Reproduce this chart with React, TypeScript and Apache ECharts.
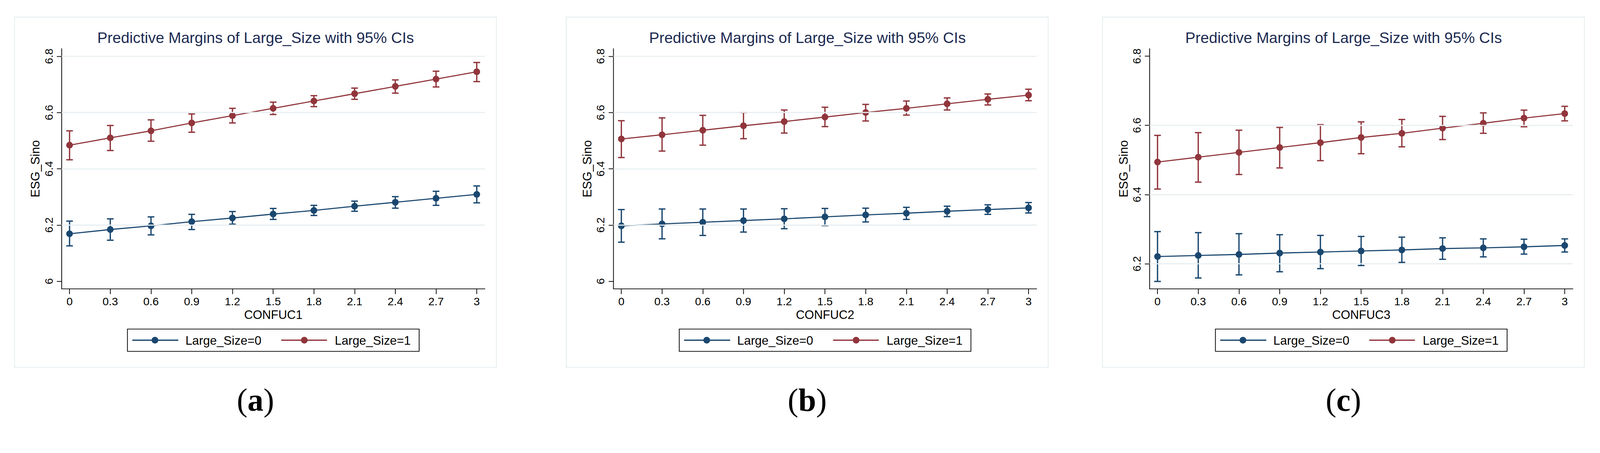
import React, { useEffect, useRef } from "react";
import * as echarts from "echarts";

// ---------- data ----------
const xValues = [0, 0.3, 0.6, 0.9, 1.2, 1.5, 1.8, 2.1, 2.4, 2.7, 3];
const xTickLabels = ["0", "0.3", "0.6", "0.9", "1.2", "1.5", "1.8", "2.1", "2.4", "2.7", "3"];
const xNames = ["CONFUC1", "CONFUC2", "CONFUC3"];
const captions = ["a", "b", "c"];
const seriesNames = ["Large_Size=0", "Large_Size=1"];
const chartTitle = "Predictive Margins of Large_Size with 95% CIs";
const yAxisName = "ESG_Sino";

const yTicksAB = [6, 6.2, 6.4, 6.6, 6.8];
const yTickLabelsAB = ["6", "6.2", "6.4", "6.6", "6.8"];
const yGridAB = [6.2, 6.4, 6.6, 6.8];
const yTicksC = [6.2, 6.4, 6.6, 6.8];
const yTickLabelsC = ["6.2", "6.4", "6.6", "6.8"];
const yGridC = [6.2, 6.4, 6.6];

// panel (a)
const a0Mean = [6.169, 6.184, 6.197, 6.212, 6.225, 6.239, 6.252, 6.267, 6.281, 6.295, 6.309];
const a0Lo = [6.126, 6.146, 6.165, 6.184, 6.203, 6.220, 6.234, 6.249, 6.260, 6.270, 6.279];
const a0Hi = [6.214, 6.222, 6.229, 6.238, 6.248, 6.259, 6.270, 6.285, 6.301, 6.320, 6.339];
const a1Mean = [6.484, 6.510, 6.535, 6.563, 6.589, 6.615, 6.641, 6.667, 6.693, 6.719, 6.745];
const a1Lo = [6.432, 6.465, 6.498, 6.530, 6.563, 6.593, 6.621, 6.647, 6.669, 6.691, 6.710];
const a1Hi = [6.535, 6.554, 6.574, 6.595, 6.615, 6.637, 6.660, 6.687, 6.716, 6.747, 6.778];

// panel (b)
const b0Mean = [6.197, 6.204, 6.210, 6.216, 6.222, 6.229, 6.236, 6.242, 6.249, 6.255, 6.261];
const b0Lo = [6.139, 6.151, 6.163, 6.175, 6.187, 6.198, 6.211, 6.220, 6.230, 6.238, 6.243];
const b0Hi = [6.255, 6.257, 6.257, 6.257, 6.258, 6.259, 6.260, 6.263, 6.267, 6.272, 6.280];
const b1Mean = [6.506, 6.521, 6.537, 6.553, 6.568, 6.584, 6.600, 6.615, 6.631, 6.647, 6.662];
const b1Lo = [6.440, 6.463, 6.484, 6.507, 6.527, 6.550, 6.570, 6.591, 6.609, 6.627, 6.642];
const b1Hi = [6.571, 6.581, 6.590, 6.600, 6.609, 6.619, 6.629, 6.641, 6.652, 6.666, 6.683];

// panel (c)
const c0Mean = [6.221, 6.224, 6.227, 6.231, 6.234, 6.237, 6.240, 6.244, 6.246, 6.249, 6.253];
const c0Lo = [6.149, 6.159, 6.168, 6.177, 6.186, 6.195, 6.204, 6.213, 6.220, 6.228, 6.234];
const c0Hi = [6.293, 6.290, 6.287, 6.284, 6.282, 6.279, 6.277, 6.275, 6.272, 6.271, 6.272];
const c1Mean = [6.494, 6.508, 6.522, 6.536, 6.550, 6.565, 6.577, 6.592, 6.606, 6.621, 6.634];
const c1Lo = [6.416, 6.436, 6.458, 6.477, 6.498, 6.518, 6.538, 6.559, 6.577, 6.596, 6.613];
const c1Hi = [6.571, 6.579, 6.586, 6.594, 6.602, 6.610, 6.617, 6.626, 6.636, 6.644, 6.655];

// ---------- styling ----------
const W = 4306;
const H = 1159;
const NAVY = "#1a476f";
const MAROON = "#90353b";
const TITLE_COLOR = "#1c2b52";
const GRID_COLOR = "#e7eef1";
const FRAME_COLOR = "#e8eff2";
const SANS = "'Liberation Sans', Arial, Helvetica, sans-serif";
const SERIF = "'Liberation Serif', 'Times New Roman', serif";

const panels = [
  { dx: 0, yMin: 5.973, yMax: 6.827, yTicks: yTicksAB, yLabels: yTickLabelsAB, yGrid: yGridAB,
    s0: [a0Mean, a0Lo, a0Hi], s1: [a1Mean, a1Lo, a1Hi] },
  { dx: 1485, yMin: 5.973, yMax: 6.827, yTicks: yTicksAB, yLabels: yTickLabelsAB, yGrid: yGridAB,
    s0: [b0Mean, b0Lo, b0Hi], s1: [b1Mean, b1Lo, b1Hi] },
  { dx: 2928, yMin: 6.1275, yMax: 6.8215, yTicks: yTicksC, yLabels: yTickLabelsC, yGrid: yGridC,
    s0: [c0Mean, c0Lo, c0Hi], s1: [c1Mean, c1Lo, c1Hi] },
];

function errorBarSeries(i: number, name: string, lo: number[], hi: number[], color: string) {
  return {
    type: "custom",
    name,
    xAxisIndex: i,
    yAxisIndex: i,
    z: 2,
    silent: true,
    encode: { x: 0, y: [1, 2] },
    data: xValues.map((x, k) => [x, lo[k], hi[k]]),
    renderItem: (_params: any, api: any) => {
      const x = api.value(0);
      const pLo = api.coord([x, api.value(1)]);
      const pHi = api.coord([x, api.value(2)]);
      const half = 9;
      const st = { stroke: color, lineWidth: 3.5 };
      return {
        type: "group",
        children: [
          { type: "line", shape: { x1: pLo[0], y1: pLo[1], x2: pHi[0], y2: pHi[1] }, style: st },
          { type: "line", shape: { x1: pLo[0] - half, y1: pLo[1], x2: pLo[0] + half, y2: pLo[1] }, style: st },
          { type: "line", shape: { x1: pHi[0] - half, y1: pHi[1], x2: pHi[0] + half, y2: pHi[1] }, style: st },
        ],
      };
    },
  };
}

function meanSeries(i: number, name: string, mean: number[], color: string) {
  return {
    type: "line",
    name,
    xAxisIndex: i,
    yAxisIndex: i,
    z: 3,
    silent: true,
    data: xValues.map((x, k) => [x, mean[k]]),
    symbol: "circle",
    symbolSize: 18,
    showSymbol: true,
    lineStyle: { color, width: 3 },
    itemStyle: { color },
    emphasis: { disabled: true },
  };
}

function buildOption() {
  const grid: any[] = [];
  const xAxis: any[] = [];
  const yAxis: any[] = [];
  const series: any[] = [];
  const graphic: any[] = [];

  panels.forEach((p, i) => {
    grid.push({ left: 166 + p.dx, top: 131, width: 1139, height: 646 });
    xAxis.push({
      type: "value",
      gridIndex: i,
      min: -0.058,
      max: 3.06,
      axisLine: { show: true, onZero: false, lineStyle: { color: "#000", width: 2 } },
      axisTick: { show: true, length: 14, lineStyle: { color: "#000", width: 2 }, customValues: xValues },
      axisLabel: {
        show: true,
        customValues: xValues,
        formatter: (v: number) => {
          const k = xValues.findIndex((x) => Math.abs(x - v) < 1e-9);
          return k >= 0 ? xTickLabels[k] : String(v);
        },
        fontSize: 30,
        color: "#000",
        fontFamily: SANS,
        margin: 18,
      },
      splitLine: { show: false },
      name: xNames[i],
      nameLocation: "middle",
      nameGap: 52,
      nameTextStyle: { fontSize: 32.5, color: "#000", fontFamily: SANS },
    });
    yAxis.push({
      type: "value",
      gridIndex: i,
      min: p.yMin,
      max: p.yMax,
      axisLine: { show: true, onZero: false, lineStyle: { color: "#000", width: 2 } },
      axisTick: { show: true, length: 13, lineStyle: { color: "#000", width: 2 }, customValues: p.yTicks },
      axisLabel: {
        show: true,
        customValues: p.yTicks,
        rotate: 90,
        formatter: (v: number) => {
          const k = p.yTicks.findIndex((y) => Math.abs(y - v) < 1e-9);
          return k >= 0 ? p.yLabels[k] : String(v);
        },
        fontSize: 30,
        color: "#000",
        fontFamily: SANS,
        margin: 20,
      },
      splitLine: { show: false },
      name: yAxisName,
      nameLocation: "middle",
      nameGap: 54,
      nameTextStyle: { fontSize: 33, color: "#000", fontFamily: SANS },
    });

    // gridlines
    series.push({
      type: "line",
      name: "grid" + i,
      xAxisIndex: i,
      yAxisIndex: i,
      data: [],
      z: 1,
      silent: true,
      markLine: {
        silent: true,
        symbol: ["none", "none"],
        label: { show: false },
        emphasis: { disabled: true },
        lineStyle: { color: GRID_COLOR, width: 3, type: "solid" },
        data: p.yGrid.map((v) => ({ yAxis: v })),
      },
    });
    series.push(errorBarSeries(i, seriesNames[0], p.s0[1], p.s0[2], NAVY));
    series.push(errorBarSeries(i, seriesNames[1], p.s1[1], p.s1[2], MAROON));
    series.push(meanSeries(i, seriesNames[0], p.s0[0], NAVY));
    series.push(meanSeries(i, seriesNames[1], p.s1[0], MAROON));

    const dx = p.dx;
    graphic.push({
      type: "rect",
      shape: { x: 39 + dx, y: 46, width: 1297, height: 942 },
      style: { fill: "none", stroke: FRAME_COLOR, lineWidth: 2.5 },
      z: -10,
      silent: true,
    });
    graphic.push({
      type: "text",
      x: 688 + dx,
      y: 101.5,
      style: {
        text: chartTitle,
        fontSize: 41,
        fontFamily: SANS,
        fill: TITLE_COLOR,
        textAlign: "center",
        textVerticalAlign: "middle",
        align: "center",
        verticalAlign: "middle",
      },
      silent: true,
    });
    graphic.push({
      type: "rect",
      shape: { x: 343 + dx, y: 885, width: 785, height: 60 },
      style: { fill: "#fff", stroke: "#000", lineWidth: 2 },
      silent: true,
    });
    const items = [
      { l1: 356, l2: 480, c: 417, t: 499, color: NAVY, name: seriesNames[0] },
      { l1: 757, l2: 880, c: 819, t: 901, color: MAROON, name: seriesNames[1] },
    ];
    items.forEach((it) => {
      graphic.push({
        type: "line",
        shape: { x1: it.l1 + dx, y1: 915, x2: it.l2 + dx, y2: 915 },
        style: { stroke: it.color, lineWidth: 3.5 },
        silent: true,
      });
      graphic.push({
        type: "circle",
        shape: { cx: it.c + dx, cy: 915, r: 9 },
        style: { fill: it.color },
        silent: true,
      });
      graphic.push({
        type: "text",
        x: it.t + dx,
        y: 916,
        style: {
          text: it.name,
          fontSize: 33,
          fontFamily: SANS,
          fill: "#000",
          textAlign: "left",
          textVerticalAlign: "middle",
          align: "left",
          verticalAlign: "middle",
        },
        silent: true,
      });
    });
    graphic.push({
      type: "text",
      x: 687.5 + dx,
      y: 1076,
      style: {
        text: "{p|(}{b|" + captions[i] + "}{p|)}",
        rich: {
          p: { fontSize: 86, fontFamily: SERIF, fill: "#000", color: "#000" },
          b: { fontSize: 86, fontFamily: SERIF, fontWeight: "bold", fill: "#000", color: "#000" },
        },
        textAlign: "center",
        textVerticalAlign: "middle",
        align: "center",
        verticalAlign: "middle",
      },
      silent: true,
    });
  });

  return {
    animation: false,
    backgroundColor: "#ffffff",
    grid,
    xAxis,
    yAxis,
    series,
    graphic,
  };
}

function viewportScale() {
  if (typeof window === "undefined") return 1;
  const s = Math.min(window.innerWidth / W, window.innerHeight / H);
  return s > 0 && isFinite(s) ? Math.min(s, 1) : 1;
}

export default function App() {
  const ref = useRef<HTMLDivElement>(null);
  const s = viewportScale();
  useEffect(() => {
    if (!ref.current) return;
    const chart = echarts.init(ref.current, null, { renderer: "svg" });
    chart.setOption(buildOption() as any);
    return () => chart.dispose();
  }, []);
  return (
    <div
      style={{
        position: "fixed",
        left: 0,
        top: 0,
        width: "100vw",
        height: "100vh",
        overflow: "hidden",
        background: "#fff",
      }}
    >
      <div
        ref={ref}
        style={{
          width: W,
          height: H,
          transform: `scale(${s})`,
          transformOrigin: "0 0",
          background: "#fff",
        }}
      />
    </div>
  );
}
